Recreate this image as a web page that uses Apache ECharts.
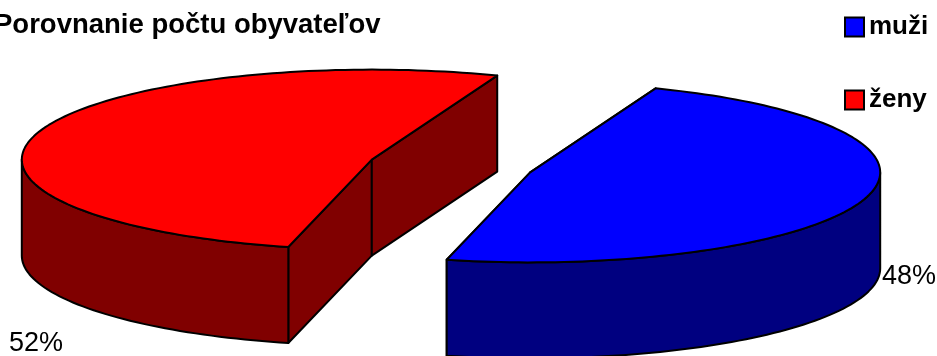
<!DOCTYPE html>
<html lang="en">
<head>
    <meta charset="UTF-8">
    <title>Porovnanie</title>
    <script src="https://cdn.jsdelivr.net/npm/echarts@6/dist/echarts.min.js"></script>
    <style type="text/css">
        * { margin: 0; padding: 0; }
        html, body { height: 100%; background: #fff; overflow: hidden; }
    </style>
</head>
<body>
<div id="main" style="width: 937px;height:356px;"></div>
<script type="text/javascript">
    var titleText = 'Porovnanie počtu obyvateľov';
    var categories = ['muži', 'ženy'];
    var values = [48, 52];
    var topColors = ['#0000ff', '#ff0000'];
    var sideColors = ['#000080', '#800000'];
    // where the percentage labels sit
    var labelPos = [[882, 277], [9, 344]];

    // projection of the tilted pie
    var cx = 451, cy = 166, rx = 350, ry = 90, depth = 96, explode = 83;
    var startAngle = 69;
    var total = values[0] + values[1];

    function point(c, deg) {
        var t = deg * Math.PI / 180;
        return [c[0] + rx * Math.cos(t), c[1] - ry * Math.sin(t)];
    }

    function arc(c, from, to) {
        var pts = [];
        var n = Math.ceil(Math.abs(to - from) / 1.5);
        for (var i = 0; i <= n; i++) {
            pts.push(point(c, from + (to - from) * i / n));
        }
        return pts;
    }

    function down(pts) {
        return pts.map(function (p) { return [p[0], p[1] + depth]; });
    }

    function poly(pts, fill) {
        return {
            type: 'polygon',
            shape: { points: pts },
            style: { fill: fill, stroke: '#000', lineWidth: 2, lineJoin: 'round' }
        };
    }

    function renderSlice(params, api) {
        var i = params.seriesIndex;
        var before = 0;
        for (var k = 0; k < i; k++) before += values[k];
        var a0 = startAngle - before / total * 360;
        var a1 = a0 - values[i] / total * 360;
        var mid = (a0 + a1) / 2 * Math.PI / 180;
        var c = [
            cx + explode * Math.cos(mid),
            cy - explode * Math.sin(mid) * ry / rx
        ];
        var children = [];
        // cut faces first, outer wall and top paint over what is hidden
        var p0 = point(c, a0), p1 = point(c, a1);
        children.push(poly([c, p0].concat(down([p0, c])), sideColors[i]));
        children.push(poly([c, p1].concat(down([p1, c])), sideColors[i]));
        // outer wall only on the front half (sin < 0)
        var w0 = Math.min(a0, 0), w1 = Math.max(a1, -180);
        var wall = arc(c, w0, w1);
        children.push(poly(wall.concat(down(wall).reverse()), sideColors[i]));
        children.push(poly([c].concat(arc(c, a0, a1)), topColors[i]));
        children.push({
            type: 'text',
            style: {
                text: api.value(0) + '%',
                x: labelPos[i][0], y: labelPos[i][1],
                fill: '#000',
                font: '27px "Liberation Sans", Arial, sans-serif',
                verticalAlign: 'middle'
            }
        });
        return { type: 'group', children: children };
    }

    var myChart = echarts.init(document.getElementById('main'), null, { renderer: 'canvas' });
    var option = {
        animation: false,
        title: {
            text: titleText,
            left: -6,
            top: 11,
            padding: 0,
            textStyle: {
                fontFamily: '"Liberation Sans", Arial, sans-serif',
                fontWeight: 'bold',
                fontSize: 27.5,
                color: '#000'
            }
        },
        legend: {
            orient: 'vertical',
            left: 844,
            top: 14,
            padding: 0,
            itemWidth: 19,
            itemHeight: 19,
            itemGap: 47,
            icon: 'rect',
            textStyle: {
                fontFamily: '"Liberation Sans", Arial, sans-serif',
                fontWeight: 'bold',
                fontSize: 26,
                color: '#000'
            },
            data: categories
        },
        series: categories.map(function (name, i) {
            return {
                type: 'custom',
                name: name,
                coordinateSystem: 'none',
                renderItem: renderSlice,
                data: [[values[i]]],
                itemStyle: { color: topColors[i], borderColor: '#000', borderWidth: 2 },
                silent: true
            };
        })
    };
    myChart.setOption(option);
</script>
</body>
</html>
